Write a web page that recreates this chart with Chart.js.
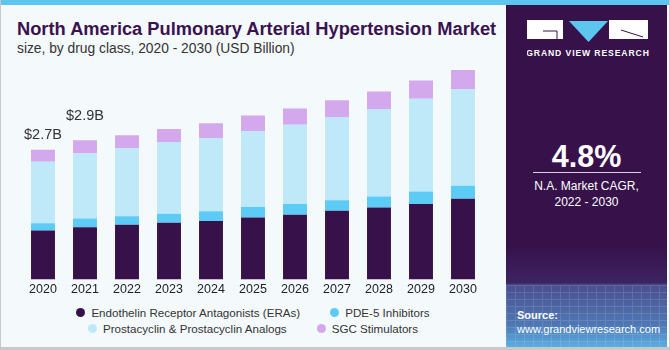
<!DOCTYPE html>
<html>
<head>
<meta charset="utf-8">
<script src="https://cdn.jsdelivr.net/npm/chart.js@4.4.1/dist/chart.umd.min.js"></script>
<style>
  html, body { margin: 0; padding: 0; }
  body { width: 670px; height: 350px; position: relative; overflow: hidden; background: #f4f9fc; font-family: "Liberation Sans", Arial, sans-serif; }
  .frame { position: absolute; left: 0; top: 0; width: 668px; height: 347px; border-left: 1px solid #c9c9c9; border-right: 2px solid #c9c9c9; border-bottom: 3px solid #c9c9c9; box-sizing: content-box; }
  .topbar { position: absolute; left: 0; top: 0; width: 670px; height: 5px; background: #5cc6ef; }
  .title { position: absolute; left: 17px; top: 18px; font-size: 18.3px; font-weight: bold; color: #3a1250; white-space: nowrap; }
  .subtitle { position: absolute; left: 17px; top: 41px; font-size: 13.8px; color: #333; white-space: nowrap; }
  #wrap { position: absolute; left: 0; top: 0; width: 505px; height: 300px; }
  .legend { position: absolute; left: 0; width: 506px; top: 304px; font-size: 11.6px; color: #333; }
  .legend .row { display: flex; justify-content: center; height: 16px; align-items: center; }
  .legend .item { display: flex; align-items: center; margin: 0 15px; white-space: nowrap; }
  .legend .dot { width: 9px; height: 9px; border-radius: 50%; margin-right: 6px; }
  .panel { position: absolute; left: 506px; top: 5px; width: 161px; height: 342px; overflow: hidden;
    background: linear-gradient(to bottom, #37114a 0px, #37114a 240px, #3e2462 278px, #4a4e8e 280px, #4f78b4 320px, #5aaee0 342px); }
  .grid { position: absolute; left: 0; top: 280px; width: 161px; height: 62px; opacity: 0.14;
    background-image: repeating-linear-gradient(to right, #dfe9ff 0 1px, transparent 1px 9px), repeating-linear-gradient(to bottom, #dfe9ff 0 1px, transparent 1px 7px); }
  .panel .txt { position: absolute; left: 0; width: 161px; text-align: center; color: #fff; white-space: nowrap; }
  .cagr { top: 134px; font-size: 30.5px; font-weight: bold; }
  .rule { position: absolute; left: 27px; top: 167px; width: 108px; height: 1px; background: #d8d0e0; }
  .src { position: absolute; left: 11px; color: #fff; font-size: 11px; white-space: nowrap; }
</style>
</head>
<body>
<div class="topbar"></div>
<div class="title">North America Pulmonary Arterial Hypertension Market</div>
<div class="subtitle">size, by drug class, 2020 - 2030 (USD Billion)</div>
<div id="wrap"><canvas id="chart" width="505" height="300"></canvas></div>
<div class="legend" id="legend"></div>

<div class="panel">
  <div class="grid"></div>
  <svg style="position:absolute;left:21px;top:15px" width="122" height="40" viewBox="0 0 122 40">
    <rect x="0" y="0" width="36" height="19" fill="#fff"/>
    <polyline points="16,11 30,11 30,19" fill="none" stroke="#37114a" stroke-width="1"/>
    <polygon points="42,1 81,1 61.5,22" fill="#5cc6ef"/>
    <rect x="82" y="0" width="39" height="19" fill="#fff"/>
    <line x1="94" y1="10" x2="116" y2="17" stroke="#37114a" stroke-width="1"/>
    <text x="61" y="36" text-anchor="middle" fill="#fff" font-family="Liberation Sans, Arial, sans-serif" font-weight="bold" font-size="8.6" letter-spacing="0.9">GRAND VIEW RESEARCH</text>
  </svg>
  <div class="txt cagr">4.8%</div>
  <div class="rule"></div>
  <div class="txt" style="top:174px;font-size:12px">N.A. Market CAGR,</div>
  <div class="txt" style="top:190px;font-size:12px">2022 - 2030</div>
  <div class="src" style="top:304px;font-weight:bold">Source:</div>
  <div class="src" style="top:318px">www.grandviewresearch.com</div>
</div>
<div class="frame"></div>

<script>
// values in USD billion
const years = ['2020', '2021', '2022', '2023', '2024', '2025', '2026', '2027', '2028', '2029', '2030'];
const eraValues = [1.02, 1.09, 1.14, 1.18, 1.22, 1.29, 1.35, 1.43, 1.50, 1.57, 1.68];
const pde5Values = [0.15, 0.18, 0.18, 0.19, 0.20, 0.22, 0.22, 0.22, 0.23, 0.26, 0.27];
const prostaValues = [1.28, 1.35, 1.41, 1.49, 1.52, 1.58, 1.65, 1.73, 1.82, 1.93, 2.01];
const sgcValues = [0.25, 0.28, 0.27, 0.27, 0.31, 0.32, 0.34, 0.35, 0.36, 0.38, 0.40];
const totalLabels = ['$2.7B', '$2.9B'];

const seriesNames = ['Endothelin Receptor Antagonists (ERAs)', 'PDE-5 Inhibitors', 'Prostacyclin & Prostacyclin Analogs', 'SGC Stimulators'];
const seriesColors = ['#37114a', '#5ccbf6', '#bfe9f9', '#d4a8ec'];
const seriesData = [eraValues, pde5Values, prostaValues, sgcValues];

const labelLift = [15, 24];

const totalsPlugin = {
    id: 'totals',
    afterDatasetsDraw(chart) {
        const ctx = chart.ctx;
        const xScale = chart.scales.x;
        const yScale = chart.scales.y;
        ctx.save();
        ctx.font = '14.5px "Liberation Sans", Arial, sans-serif';
        ctx.fillStyle = '#333';
        ctx.textAlign = 'center';
        ctx.textBaseline = 'middle';
        totalLabels.forEach((label, i) => {
            const total = seriesData.reduce((s, arr) => s + arr[i], 0);
            const x = xScale.getPixelForValue(i);
            const y = yScale.getPixelForValue(total) - labelLift[i];
            ctx.fillText(label, x, y);
        });
        ctx.restore();
    }
};

new Chart(document.getElementById('chart'), {
    type: 'bar',
    data: {
        labels: years,
        datasets: seriesData.map((data, i) => ({
            label: seriesNames[i],
            data: data,
            backgroundColor: seriesColors[i],
            borderWidth: 0,
            categoryPercentage: 1,
            barPercentage: 0.57
        }))
    },
    options: {
        responsive: false,
        animation: false,
        layout: { padding: { left: 22, right: 21, top: 58.4, bottom: 1.4 } },
        scales: {
            x: {
                stacked: true,
                grid: { display: false, drawTicks: false },
                border: { display: false },
                ticks: { color: '#222', font: { size: 12.5, family: '"Liberation Sans", Arial, sans-serif' }, padding: 2 }
            },
            y: {
                stacked: true,
                display: false,
                min: 0,
                max: 4.6
            }
        },
        plugins: {
            legend: { display: false },
            tooltip: { enabled: false }
        }
    },
    plugins: [totalsPlugin]
});

// legend, two rows like the original
const legend = document.getElementById('legend');
[[0, 1], [2, 3]].forEach(rowIdx => {
    const row = document.createElement('div');
    row.className = 'row';
    rowIdx.forEach(i => {
        const item = document.createElement('div');
        item.className = 'item';
        item.innerHTML = `<span class="dot" style="background:${seriesColors[i]}"></span><span>${seriesNames[i]}</span>`;
        row.appendChild(item);
    });
    legend.appendChild(row);
});
</script>
</body>
</html>
